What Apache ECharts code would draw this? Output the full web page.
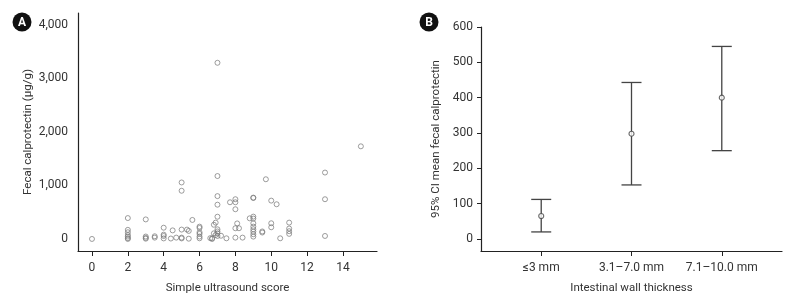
<!DOCTYPE html>
<html>
<head>
<meta charset="utf-8">
<script src="https://cdn.jsdelivr.net/npm/echarts@6/dist/echarts.min.js"></script>
<style>
  html, body { margin: 0; padding: 0; background: #fff; }
  #chart { width: 794px; height: 303px; }
</style>
</head>
<body>
<div id="chart"></div>
<script>
// panel A: simple ultrasound score vs fecal calprotectin (ug/g)
var scoreX = [0,
  2, 2, 2, 2, 2, 2, 2,
  3, 3, 3, 3,
  3.5, 3.5,
  4, 4, 4, 4,
  4.4, 4.5, 4.7,
  5, 5, 5, 5, 5,
  5.3, 5.4, 5.4, 5.6,
  6, 6, 6, 6, 6, 6,
  6.6, 6.7, 6.7, 6.8, 6.8, 6.9, 6.9,
  7, 7, 7, 7, 7, 7, 7, 7, 7,
  7.2, 7.5, 7.7,
  8, 8, 8, 8, 8,
  8.1, 8.2, 8.4, 8.8,
  9, 9, 9, 9, 9, 9, 9, 9, 9, 9,
  9.5, 9.5, 9.7,
  10, 10, 10, 10.3, 10.5,
  11, 11, 11, 11,
  13, 13, 13,
  15];
var calpro = [0,
  390, 170, 125, 75, 45, 15, 0,
  365, 45, 20, 5,
  50, 25,
  210, 80, 55, 10,
  8, 160, 25,
  1055, 900, 175, 25, 10,
  175, 150, 5, 355,
  230, 205, 125, 95, 45, 12,
  15, 0, 12, 265, 105, 305, 75,
  3290, 1175, 800, 640, 415, 180, 140, 105, 56,
  60, 12, 685,
  742, 685, 555, 200, 25,
  290, 200, 25, 385,
  772, 765, 417, 380, 293, 230, 181, 137, 88, 44,
  140, 120, 1115,
  716, 293, 218, 648, 12,
  305, 195, 145, 95,
  1240, 742, 56,
  1730];
var scoreTicks = [0, 2, 4, 6, 8, 10, 12, 14];
var calproTicks = [0, 1000, 2000, 3000, 4000];

// panel B: 95% CI of mean fecal calprotectin by wall thickness
var thickness = ['≤3 mm', '3.1–7.0 mm', '7.1–10.0 mm'];
var ciMean = [65, 298, 400];
var ciLow = [20, 153, 250];
var ciHigh = [112, 443, 545];
var ciTicks = [0, 100, 200, 300, 400, 500, 600];

var font = 'Roboto';
var txt = '#333';
var axisCol = '#222';

var scatterData = scoreX.map(function (x, i) { return [x, calpro[i]]; });
var barData = thickness.map(function (t, i) { return [i, ciLow[i], ciHigh[i]]; });
var meanData = thickness.map(function (t, i) { return [i, ciMean[i]]; });

var chart = echarts.init(document.getElementById('chart'), null, { renderer: 'canvas' });

var option = {
  animation: false,
  textStyle: { fontFamily: font },
  grid: [
    { left: 78, top: 13, width: 299, bottom: 52 },
    { left: 481, top: 27, right: 12, bottom: 52 }
  ],
  xAxis: [
    {
      gridIndex: 0, type: 'value', min: -0.78, max: 15.9,
      name: 'Simple ultrasound score', nameLocation: 'middle', nameGap: 31,
      nameTextStyle: { color: txt, fontSize: 11.5, fontFamily: font },
      splitLine: { show: false },
      axisLine: { onZero: false, lineStyle: { color: axisCol, width: 1.2 } },
      axisTick: { show: true, length: 5, customValues: scoreTicks, lineStyle: { color: axisCol } },
      axisLabel: { customValues: scoreTicks, color: txt, fontSize: 12, margin: 11, fontFamily: font }
    },
    {
      gridIndex: 1, type: 'value', min: -0.667, max: 2.667,
      name: 'Intestinal wall thickness', nameLocation: 'middle', nameGap: 31,
      nameTextStyle: { color: txt, fontSize: 11.5, fontFamily: font },
      splitLine: { show: false },
      axisLine: { onZero: false, lineStyle: { color: axisCol, width: 1.2 } },
      axisTick: { show: true, length: 5, customValues: [0, 1, 2], lineStyle: { color: axisCol } },
      axisLabel: {
        customValues: [0, 1, 2], color: txt, fontSize: 12, margin: 11, fontFamily: font,
        formatter: function (v) { return thickness[Math.round(v)]; }
      }
    }
  ],
  yAxis: [
    {
      gridIndex: 0, type: 'value', min: -225, max: 4220,
      name: 'Fecal calprotectin (μg/g)', nameLocation: 'middle', nameGap: 44,
      nameTextStyle: { color: txt, fontSize: 11.5, fontFamily: font },
      splitLine: { show: false },
      axisLine: { show: true, onZero: false, lineStyle: { color: axisCol, width: 1.2 } },
      axisTick: { show: false },
      axisLabel: {
        customValues: calproTicks, color: txt, fontSize: 12, margin: 10, fontFamily: font,
        formatter: function (v) { return v.toLocaleString('en-US'); }
      }
    },
    {
      gridIndex: 1, type: 'value', min: -34, max: 600,
      name: '95% CI mean fecal calprotectin', nameLocation: 'middle', nameGap: 39,
      nameTextStyle: { color: txt, fontSize: 11.5, fontFamily: font },
      splitLine: { show: false },
      axisLine: { show: true, onZero: false, lineStyle: { color: axisCol, width: 1.2 } },
      axisTick: { show: true, length: 4, customValues: ciTicks, lineStyle: { color: axisCol } },
      axisLabel: { customValues: ciTicks, color: txt, fontSize: 12, margin: 8, fontFamily: font }
    }
  ],
  graphic: [
    { type: 'circle', shape: { cx: 22, cy: 22, r: 9.5 }, style: { fill: '#111' } },
    { type: 'text', x: 22, y: 22.5, style: { text: 'A', fill: '#fff', font: 'bold 12px ' + font, align: 'center', verticalAlign: 'middle' } },
    { type: 'circle', shape: { cx: 429, cy: 22, r: 9.5 }, style: { fill: '#111' } },
    { type: 'text', x: 429, y: 22.5, style: { text: 'B', fill: '#fff', font: 'bold 12px ' + font, align: 'center', verticalAlign: 'middle' } }
  ],
  series: [
    {
      type: 'scatter', xAxisIndex: 0, yAxisIndex: 0,
      symbol: 'circle', symbolSize: 5,
      itemStyle: { color: 'rgba(255,255,255,0)', borderColor: '#777', borderWidth: 0.9 },
      data: scatterData
    },
    {
      type: 'custom', xAxisIndex: 1, yAxisIndex: 1,
      renderItem: function (params, api) {
        var top = api.coord([api.value(0), api.value(2)]);
        var bot = api.coord([api.value(0), api.value(1)]);
        var hw = 10;
        var st = { stroke: '#444', lineWidth: 1.3 };
        return {
          type: 'group',
          children: [
            { type: 'line', shape: { x1: top[0], y1: top[1], x2: bot[0], y2: bot[1] }, style: st },
            { type: 'line', shape: { x1: top[0] - hw, y1: top[1], x2: top[0] + hw, y2: top[1] }, style: st },
            { type: 'line', shape: { x1: bot[0] - hw, y1: bot[1], x2: bot[0] + hw, y2: bot[1] }, style: st }
          ]
        };
      },
      data: barData
    },
    {
      type: 'scatter', xAxisIndex: 1, yAxisIndex: 1,
      symbol: 'circle', symbolSize: 5,
      itemStyle: { color: '#fff', borderColor: '#444', borderWidth: 1.1 },
      data: meanData, z: 5
    }
  ]
};

chart.setOption(option);
</script>
</body>
</html>
